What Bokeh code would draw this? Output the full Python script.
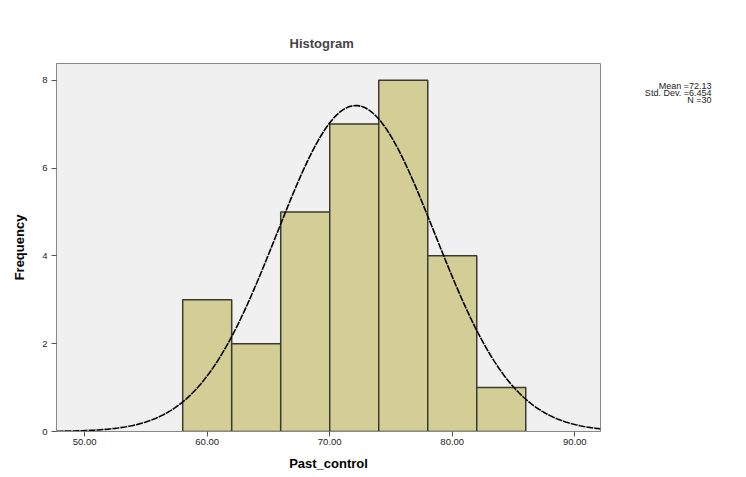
import numpy as np
from bokeh.plotting import figure
from bokeh.layouts import row
from bokeh.models import Range1d, FixedTicker, ColumnDataSource
from bokeh.core.properties import value
from bokeh.embed import file_html
from bokeh.resources import INLINE

# data
bin_centers = [60, 64, 68, 72, 76, 80, 84]
counts = [3, 2, 5, 7, 8, 4, 1]
bin_width = 4
mean = 72.13
std = 6.45
n = 30
x_ticks = [50, 60, 70, 80, 90]
x_tick_labels = {50: "50.00", 60: "60.00", 70: "70.00", 80: "80.00", 90: "90.00"}
y_ticks = [0, 2, 4, 6, 8]
legend_lines = ["Mean =72.13", "Std. Dev. =6.454", "N =30"]

FONT = "Liberation Sans"
H = 474
TOP = 63
BOTTOM = 431

p = figure(width=610, height=H, output_backend="svg", toolbar_location=None,
           x_range=Range1d(47.7, 92.1), y_range=Range1d(0, 8.38),
           min_border_left=56, min_border_right=10, min_border_top=TOP,
           min_border_bottom=H - BOTTOM)

p.title.text = "Histogram"
p.title.align = "left"
p.title.text_font = FONT
p.title.text_font_size = "13px"
p.title.text_font_style = "bold"
p.title.offset = 233
p.title.standoff = 25

p.background_fill_color = "#f0f0f0"
p.border_fill_color = "white"
p.outline_line_color = "#888888"
p.outline_line_width = 1
p.xgrid.visible = False
p.ygrid.visible = False

src = ColumnDataSource(dict(x=bin_centers, top=counts))
p.vbar(x="x", top="top", bottom=0, width=bin_width, source=src,
       fill_color="#d3ce96", line_color="#3a3a30", line_width=1.5)

xs = np.linspace(47.7, 92.1, 400)
ys = n * bin_width / (std * np.sqrt(2 * np.pi)) * np.exp(-((xs - mean) ** 2) / (2 * std ** 2))
p.line(xs, ys, line_color="black", line_width=1.6, line_dash="7 1")

p.xaxis.ticker = FixedTicker(ticks=x_ticks)
p.xaxis.major_label_overrides = x_tick_labels
p.yaxis.ticker = FixedTicker(ticks=y_ticks)
for ax in (p.xaxis, p.yaxis):
    ax.minor_tick_line_color = None
    ax.major_tick_in = 0
    ax.major_tick_out = 5
    ax.major_tick_line_color = "#555555"
    ax.axis_line_color = "#888888"
    ax.major_label_text_font = FONT
    ax.major_label_text_font_size = "9.5px"
    ax.major_label_text_color = "#222222"
    ax.axis_label_text_font = FONT
    ax.axis_label_text_font_size = "13px"
    ax.axis_label_text_font_style = "bold"
    ax.axis_label_text_color = "black"

p.xaxis.axis_label = "Past_control"
p.yaxis.axis_label = "Frequency"
p.xaxis.major_label_standoff = 2
p.yaxis.major_label_standoff = 4
p.xaxis.axis_label_standoff = 8
p.yaxis.axis_label_standoff = 12

# legend-like text panel at right (its frame is aligned with the main frame;
# a flipped range makes data y equal to page y)
q = figure(width=128, height=H, output_backend="svg", toolbar_location=None,
           x_range=Range1d(0, 128), y_range=Range1d(BOTTOM, TOP),
           min_border=0, outline_line_color=None)
q.axis.visible = False
q.grid.visible = False
q.background_fill_color = "white"
q.border_fill_color = "white"
tsrc = ColumnDataSource(dict(x=[101] * len(legend_lines),
                             y=[85 + 7 * i for i in range(len(legend_lines))],
                             t=legend_lines))
q.text(x="x", y="y", text="t", source=tsrc, text_align="right", text_baseline="middle",
       text_font=value(FONT), text_font_size="9px", text_color="#222222")

layout = row(p, q)
open("out.html", "w").write(file_html(layout, INLINE))
